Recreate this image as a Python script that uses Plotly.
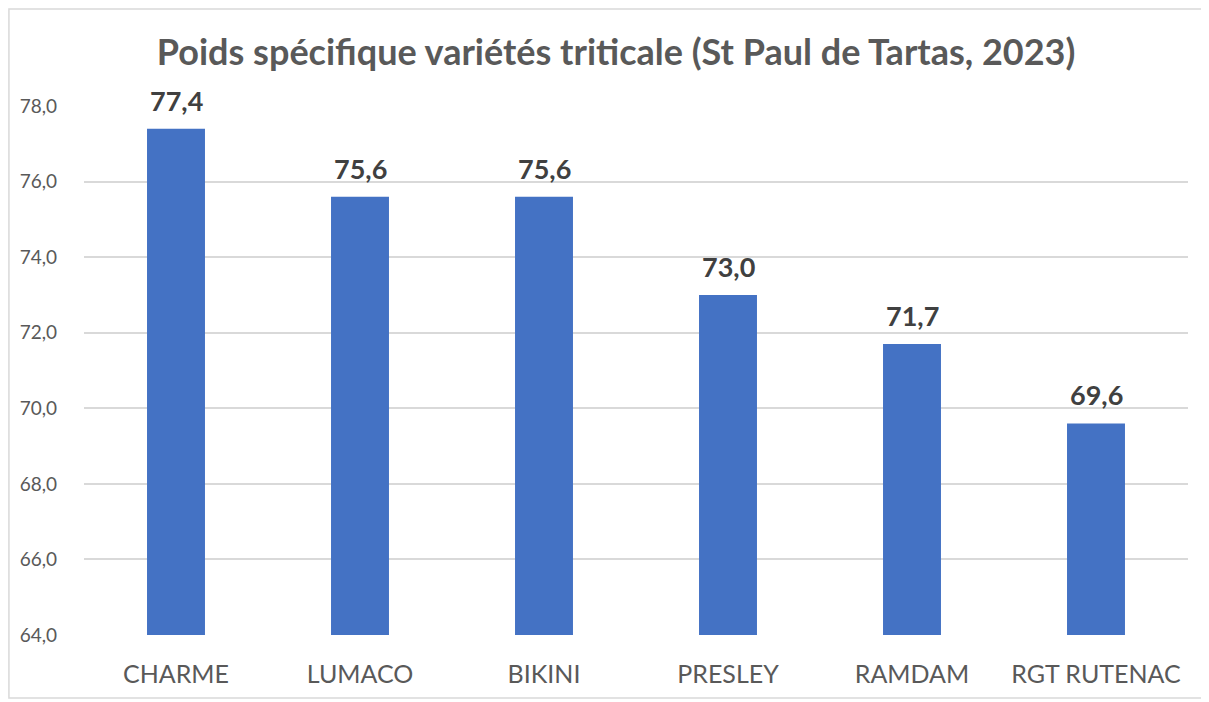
import plotly.graph_objects as go

categories = ["CHARME", "LUMACO", "BIKINI", "PRESLEY", "RAMDAM", "RGT RUTENAC"]
values = [77.4, 75.6, 75.6, 73.0, 71.7, 69.6]
title = "Poids spécifique variétés triticale (St Paul de Tartas, 2023)"

FONT = "Lato, 'Open Sans', sans-serif"

fig = go.Figure()
fig.add_trace(go.Bar(
    x=categories, y=values,
    marker=dict(color="#4472C4", line=dict(width=0)),
    hoverinfo="x+y",
))

for c, v in zip(categories, values):
    fig.add_annotation(
        x=c, y=v, text=f"<b>{v:.1f}</b>".replace(".", ","),
        showarrow=False, yanchor="bottom", yshift=10,
        font=dict(family=FONT, size=27, color="#404040"),
    )

fig.update_layout(
    width=1209, height=702,
    margin=dict(l=76, r=29, t=98, b=75),
    paper_bgcolor="white", plot_bgcolor="white",
    separators=", ",
    bargap=0.685,
    showlegend=False,
    title=dict(text=f"<b>{title}</b>", x=0.503, xanchor="center",
               y=0.937, yanchor="middle",
               font=dict(family=FONT, size=36, color="#595959")),
    xaxis=dict(showgrid=False, showline=False, ticks="",
               tickfont=dict(family=FONT, size=25, color="#595959"),
               ticklabelstandoff=22),
    yaxis=dict(range=[64, 78], dtick=2, tickformat=".1f",
               showgrid=True, gridcolor="#D9D9D9", gridwidth=1.5,
               zeroline=False, showline=False, ticks="",
               tickfont=dict(family=FONT, size=19, color="#595959"),
               ticklabelstandoff=26),
    shapes=[dict(type="rect", xref="paper", yref="paper",
                 x0=-0.068, x1=1.0154, y0=-0.119, y1=1.1834,
                 line=dict(color="#D9D9D9", width=1.5), layer="below")],
)

fig.write_html("out.html")
